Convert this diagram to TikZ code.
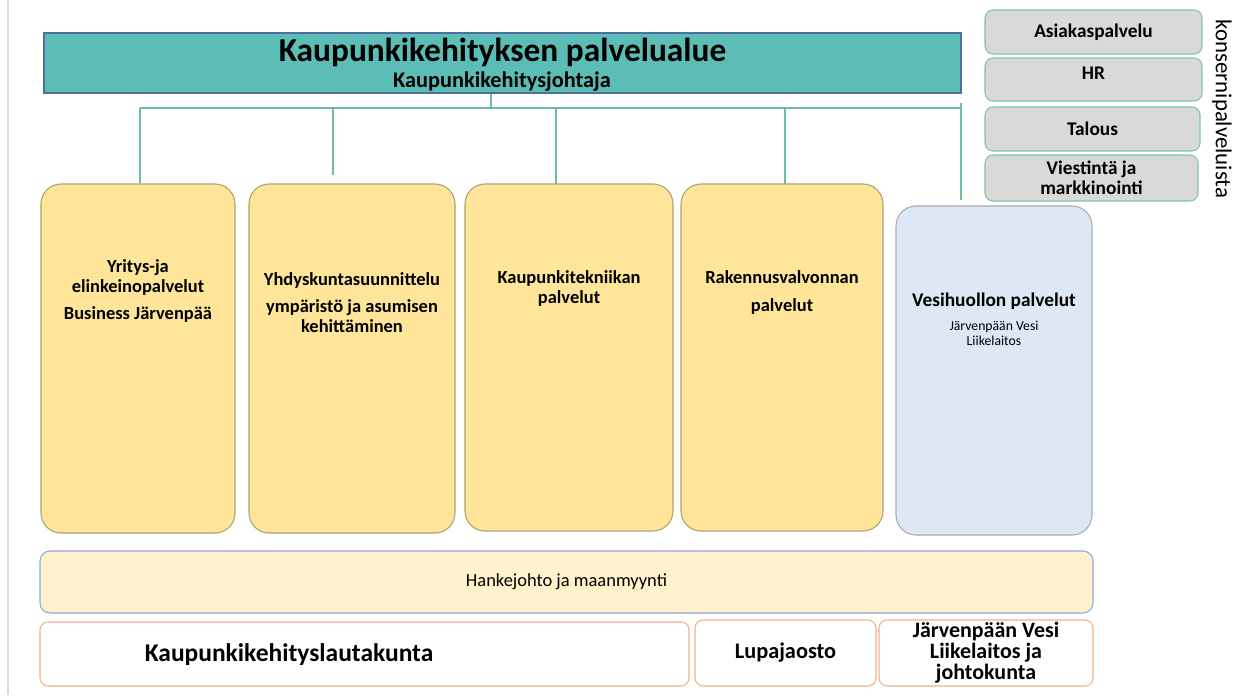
\documentclass[tikz,border=0pt]{standalone}
\usepackage{fontspec}
\setmainfont{Carlito}
\definecolor{headfill}{HTML}{5BBDB6}
\definecolor{headline}{HTML}{4F6FA0}
\definecolor{connline}{HTML}{6BBF9F}
\definecolor{unitfill}{HTML}{FFE599}
\definecolor{unitline}{HTML}{B0A070}
\definecolor{waterfill}{HTML}{DEE8F4}
\definecolor{waterline}{HTML}{A6ABB4}
\definecolor{projfill}{HTML}{FFF1CC}
\definecolor{projline}{HTML}{8EAADB}
\definecolor{boardline}{HTML}{F4B183}
\definecolor{groupfill}{HTML}{D9D9D9}
\definecolor{groupline}{HTML}{7CC7A5}
\begin{document}
\begin{tikzpicture}[x=0.2mm, y=-0.2mm, line width=0.6pt,
    unit/.style={draw=unitline, fill=unitfill, rounded corners=4mm, minimum height=69.8mm},
    unittext/.style={align=center, font=\fontsize{10.5}{11}\selectfont\bfseries},
    board/.style={draw=boardline, fill=white, rounded corners=1.6mm, minimum height=13.2mm},
    group/.style={draw=groupline, fill=groupfill, rounded corners=1.6mm, minimum width=43mm, minimum height=8.8mm, align=center, font=\fontsize{11}{11.3}\selectfont\bfseries},
    conn/.style={draw=connline}]
    \useasboundingbox (0,0) rectangle (1240,695);
    \draw[gray!30] (8,0) -- (8,695);

    % Service area head
    \node[draw=headline, fill=headfill, line width=0.9pt, minimum width=183.4mm, minimum height=12mm] (head) at (502.5,63) {};
    \node[font=\fontsize{19}{21}\selectfont\bfseries] (headtitle) at (502.5,52) {Kaupunkikehityksen palvelualue};
    \node[font=\fontsize{12.7}{14}\selectfont\bfseries] (headsub) at (502,82) {Kaupunkikehitysjohtaja};

    % Service units
    \node[unit, minimum width=38.8mm] (yritys) at (138,358.5) {};
    \node[unit, minimum width=41.2mm] (yhdys) at (352,358.5) {};
    \node[unit, minimum width=41.6mm, minimum height=69.4mm] (tekniikka) at (569,357.5) {};
    \node[unit, minimum width=40.4mm, minimum height=69.4mm] (rakennus) at (782,357.5) {};
    \node[unit, draw=waterline, fill=waterfill, minimum width=39.2mm, minimum height=65.8mm] (vesi) at (994,370.5) {};

    \node[unittext] (yritystext) at (138,291) {Yritys-ja\\elinkeinopalvelut\\[1.6mm]Business Järvenpää};
    \node[unittext] (yhdystext) at (352,302.5) {Yhdyskuntasuunnittelu\\[1.6mm]ympäristö ja asumisen\\kehittäminen};
    \node[unittext] (tekniikkatext) at (569,288.5) {Kaupunkitekniikan\\palvelut};
    \node[unittext] (rakennustext) at (782,292.5) {Rakennusvalvonnan\\[1.6mm]palvelut};
    \node[unittext, font=\fontsize{11}{12}\selectfont\bfseries] (vesitext) at (994,301) {Vesihuollon palvelut};
    \node[align=center, font=\fontsize{7.8}{8.6}\selectfont] (vesisub) at (994,333.5) {Järvenpään Vesi\\Liikelaitos};

    % Connectors
    \coordinate (hub) at (491,108);
    \coordinate (busL) at (140,108);
    \coordinate (busR) at (961,108);
    \coordinate (drop2) at (333,175);
    \coordinate (drop3) at (556,184);
    \coordinate (drop4) at (785,184);
    \coordinate (drop5) at (961,200);
    \draw[conn] (hub |- head.south) -- (hub);
    \draw[conn] (busL) -- (busR);
    \draw[conn] (busL) -- (busL |- yritys.north);
    \draw[conn] (drop2 |- busL) -- (drop2);
    \draw[conn] (drop3 |- busL) -- (drop3);
    \draw[conn] (drop4 |- busL) -- (drop4);
    \draw[conn] ([yshift=1mm]busR) -- (drop5);

    % Project management and boards
    \node[draw=projline, fill=projfill, rounded corners=2mm, minimum width=210.6mm, minimum height=12.4mm, font=\fontsize{10.5}{12}\selectfont] (hanke) at (566.5,582) {Hankejohto ja maanmyynti};
    \node[board, minimum width=129.8mm, minimum height=12.8mm] (lautakunta) at (364.5,654) {};
    \node[font=\fontsize{14.5}{16}\selectfont\bfseries] (lautatext) at (289,655) {Kaupunkikehityslautakunta};
    \node[board, minimum width=36.2mm, font=\fontsize{12.7}{14}\selectfont\bfseries] (lupa) at (785.5,653) {Lupajaosto};
    \node[board, minimum width=42.8mm, inner ysep=0pt, align=center, font=\fontsize{12.5}{11.9}\selectfont\bfseries] (johtokunta) at (986,653) {Järvenpään Vesi\\Liikelaitos ja\\johtokunta};

    % Group services
    \node[group, minimum width=43.4mm] (asiakas) at (1093.5,32) {Asiakaspalvelu};
    \node[group, minimum width=43.4mm, minimum height=8.6mm] (hr) at (1093.5,79.5) {};
    \node[font=\fontsize{11}{11}\selectfont\bfseries] (hrtext) at ([yshift=1.3mm]hr.center) {HR};
    \node[group] (talous) at (1092.5,129) {Talous};
    \node[group, minimum width=42.6mm, minimum height=9.2mm, inner ysep=0.3mm] (viestinta) at (1091.5,178) {Viestintä ja\\markkinointi};
    \node[rotate=-90, font=\fontsize{13}{15}\selectfont] (konserni) at (1222,109) {konsernipalveluista};
\end{tikzpicture}
\end{document}
